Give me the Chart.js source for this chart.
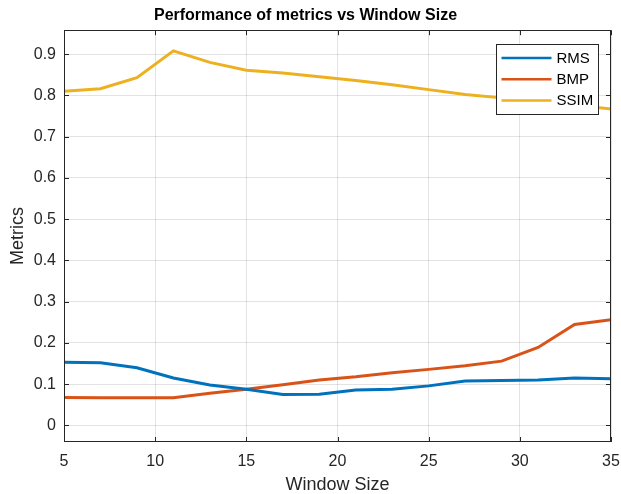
<!DOCTYPE html>
<html>
<head>
<meta charset="utf-8">
<title>Performance of metrics vs Window Size</title>
<script src="https://cdn.jsdelivr.net/npm/chart.js@4.4.0/dist/chart.umd.min.js"></script>
<style>
  html, body { margin: 0; padding: 0; background: #ffffff; }
  canvas { display: block; }
</style>
</head>
<body>
<canvas id="chart" width="621" height="494"></canvas>
<script>
// Window sizes evaluated and the metric obtained at each one
const windowSizes = [5, 7, 9, 11, 13, 15, 17, 19, 21, 23, 25, 27, 29, 31, 33, 35];
const rms  = [0.153, 0.152, 0.140, 0.115, 0.098, 0.088, 0.075, 0.076, 0.086, 0.088, 0.096, 0.108, 0.109, 0.110, 0.115, 0.113];
const bmp  = [0.068, 0.067, 0.067, 0.067, 0.078, 0.088, 0.099, 0.110, 0.118, 0.128, 0.136, 0.145, 0.156, 0.189, 0.245, 0.256];
const ssim = [0.810, 0.816, 0.843, 0.908, 0.880, 0.861, 0.854, 0.845, 0.836, 0.826, 0.814, 0.802, 0.794, 0.787, 0.777, 0.767];

const seriesNames = ['RMS', 'BMP', 'SSIM'];
const seriesColors = ['#0072BD', '#D95319', '#EDB120'];

const xTicks = [5, 10, 15, 20, 25, 30, 35];
const yTicks = [0, 0.1, 0.2, 0.3, 0.4, 0.5, 0.6, 0.7, 0.8, 0.9];

const FONT = '"Liberation Sans", Arial, Helvetica, sans-serif';
const INK = '#262626';
const GRID = 'rgba(38,38,38,0.13)';

Chart.defaults.font.family = FONT;
Chart.defaults.color = INK;

function toPoints(values) {
  return values.map((v, i) => ({ x: windowSizes[i], y: v }));
}

// Axes box, inward tick marks and the boxed legend in the upper right
const axesFrame = {
  id: 'axesFrame',
  afterDatasetsDraw(chart) {
    const { ctx, chartArea, scales } = chart;
    const { left, right, top, bottom } = chartArea;
    const tick = 5;
    ctx.save();
    ctx.strokeStyle = INK;
    ctx.lineWidth = 1;
    ctx.strokeRect(Math.round(left) + 0.5, Math.round(top) + 0.5,
                   Math.round(right - left) - 1, Math.round(bottom - top) - 1);
    ctx.beginPath();
    xTicks.forEach(v => {
      const px = Math.round(scales.x.getPixelForValue(v)) + 0.5;
      ctx.moveTo(px, bottom); ctx.lineTo(px, bottom - tick);
      ctx.moveTo(px, top); ctx.lineTo(px, top + tick);
    });
    yTicks.forEach(v => {
      const py = Math.round(scales.y.getPixelForValue(v)) + 0.5;
      ctx.moveTo(left, py); ctx.lineTo(left + tick, py);
      ctx.moveTo(right, py); ctx.lineTo(right - tick, py);
    });
    ctx.stroke();

    // legend
    const boxW = 102, boxH = 70;
    const bx = Math.round(right) - 13 - boxW + 0.5;
    const by = Math.round(top) + 14 + 0.5;
    ctx.fillStyle = '#ffffff';
    ctx.fillRect(bx, by, boxW, boxH);
    ctx.strokeStyle = INK;
    ctx.strokeRect(bx, by, boxW, boxH);
    ctx.font = '15px ' + FONT;
    ctx.textBaseline = 'middle';
    ctx.textAlign = 'left';
    chart.data.datasets.forEach((ds, i) => {
      const ry = by + 13.5 + i * 21.3;
      ctx.strokeStyle = ds.borderColor;
      ctx.lineWidth = 2.5;
      ctx.beginPath();
      ctx.moveTo(bx + 5, ry);
      ctx.lineTo(bx + 55, ry);
      ctx.stroke();
      ctx.fillStyle = '#000000';
      ctx.fillText(ds.label, bx + 60, ry + 0.5);
    });
    ctx.restore();
  }
};

new Chart(document.getElementById('chart'), {
  type: 'line',
  data: {
    datasets: [rms, bmp, ssim].map((vals, i) => ({
      label: seriesNames[i],
      data: toPoints(vals),
      borderColor: seriesColors[i],
      backgroundColor: seriesColors[i],
      borderWidth: 3,
      pointRadius: 0,
      tension: 0,
      fill: false
    }))
  },
  options: {
    responsive: false,
    animation: false,
    devicePixelRatio: 1,
    layout: { padding: { left: 0, right: 10, top: 0, bottom: 0 } },
    plugins: {
      legend: { display: false },
      tooltip: { enabled: false },
      title: {
        display: true,
        text: 'Performance of metrics vs Window Size',
        color: '#000000',
        font: { size: 16, weight: 'bold', lineHeight: 1.2 },
        padding: { top: 6, bottom: 5 }
      }
    },
    scales: {
      x: {
        type: 'linear',
        min: 5,
        max: 35,
        afterBuildTicks(scale) { scale.ticks = xTicks.map(value => ({ value })); },
        afterFit(scale) {
          scale.height = 52;
          // end labels may hang past the plot edges
          scale.paddingLeft = 0;
          scale.paddingRight = 0;
        },
        ticks: {
          font: { size: 16 },
          color: INK,
          padding: 10,
          maxRotation: 0,
          callback: v => String(v)
        },
        grid: { color: GRID, drawTicks: false, lineWidth: 1 },
        border: { display: false },
        title: {
          display: true,
          text: 'Window Size',
          color: INK,
          font: { size: 18, lineHeight: 1 },
          padding: { top: 0, bottom: 0 }
        }
      },
      y: {
        type: 'linear',
        min: -0.04,
        max: 0.958,
        afterBuildTicks(scale) { scale.ticks = yTicks.map(value => ({ value })); },
        afterFit(scale) {
          scale.width = 64;
          scale.paddingTop = 0;
          scale.paddingBottom = 0;
        },
        ticks: {
          font: { size: 16 },
          color: INK,
          padding: 8,
          callback: v => String(v)
        },
        grid: { color: GRID, drawTicks: false, lineWidth: 1 },
        border: { display: false },
        title: {
          display: true,
          text: 'Metrics',
          color: INK,
          font: { size: 18, lineHeight: 1 },
          padding: { top: 9, bottom: 0 }
        }
      }
    }
  },
  plugins: [axesFrame]
});
</script>
</body>
</html>
